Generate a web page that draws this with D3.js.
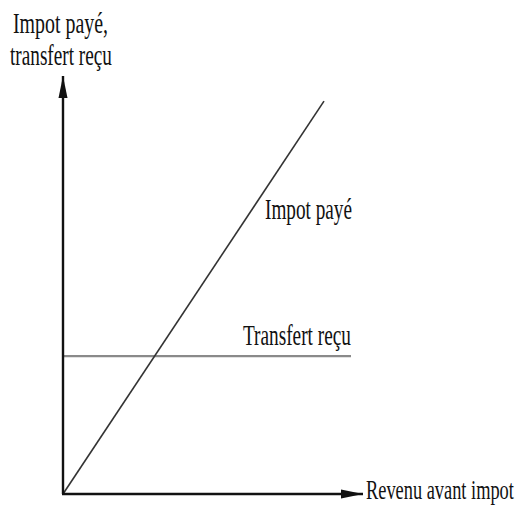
<!DOCTYPE html>
<html>
<head>
<meta charset="utf-8">
<script src="https://cdn.jsdelivr.net/npm/d3@7"></script>
<style>
  html, body { margin: 0; padding: 0; background: #fff; }
  svg { display: block; }
  text { font-family: "Liberation Serif", "DejaVu Serif", serif; fill: #111; }
</style>
</head>
<body>
<div id="chart"></div>
<script>
// ---- data ----
const revenu = [0, 87];          // revenu avant impot (tax line)
const impot = [0, 94];           // impot payé
const transfertLevel = 33;       // transfert reçu (flat)
const transfertExtent = [0, 96];
const axisMax = [100, 100];      // x, y arrow ends

const yTitle = ["Impot payé,", "transfert reçu"];
const xTitle = "Revenu avant impot";
const taxLabel = "Impot payé";
const transferLabel = "Transfert reçu";

// ---- svg ----
const width = 522, height = 510;
const margin = { top: 76, right: 159, bottom: 16, left: 63 };

const svg = d3.select("#chart").append("svg")
  .attr("width", width)
  .attr("height", height);

const x = d3.scaleLinear().domain([0, 100]).range([margin.left, width - margin.right]);
const y = d3.scaleLinear().domain([0, 100]).range([height - margin.bottom, margin.top]);

svg.append("defs").append("marker")
  .attr("id", "arrow")
  .attr("viewBox", "0 -5 22 10")
  .attr("refX", 22).attr("refY", 0)
  .attr("markerUnits", "userSpaceOnUse")
  .attr("markerWidth", 22).attr("markerHeight", 10)
  .attr("orient", "auto")
  .append("path")
  .attr("d", "M0,-4.5L22,0L0,4.5Z")
  .attr("fill", "#111");

// transfer line
svg.append("line")
  .attr("x1", x(transfertExtent[0])).attr("x2", x(transfertExtent[1]))
  .attr("y1", y(transfertLevel)).attr("y2", y(transfertLevel))
  .attr("stroke", "#8a8a8a").attr("stroke-width", 2.2);

// tax line
const line = d3.line().x(d => x(d[0])).y(d => y(d[1]));
svg.append("path")
  .datum(d3.zip(revenu, impot))
  .attr("d", line)
  .attr("fill", "none")
  .attr("stroke", "#333")
  .attr("stroke-width", 1.6);

// axes
svg.append("line")
  .attr("x1", x(0)).attr("y1", y(0)).attr("x2", x(0)).attr("y2", y(axisMax[1]))
  .attr("stroke", "#111").attr("stroke-width", 2.4)
  .attr("marker-end", "url(#arrow)");
svg.append("line")
  .attr("x1", x(0) - 1).attr("y1", y(0)).attr("x2", x(axisMax[0])).attr("y2", y(0))
  .attr("stroke", "#111").attr("stroke-width", 2.4)
  .attr("marker-end", "url(#arrow)");

// labels: condensed serif, squeezed horizontally to the reference width
function label(txt, px, py, len, size) {
  const t = svg.append("text")
    .attr("font-size", size)
    .text(txt);
  const natural = t.node().getComputedTextLength();
  t.attr("transform", `translate(${px},${py}) scale(${len / natural},1)`);
}

label(yTitle[0], 13, 33, 95, 30);
label(yTitle[1], 10, 65, 102, 30);
label(taxLabel, 265, 219, 87, 30);
label(transferLabel, 243, 345, 108, 30);
label(xTitle, 366, 499, 148, 27);
</script>
</body>
</html>
